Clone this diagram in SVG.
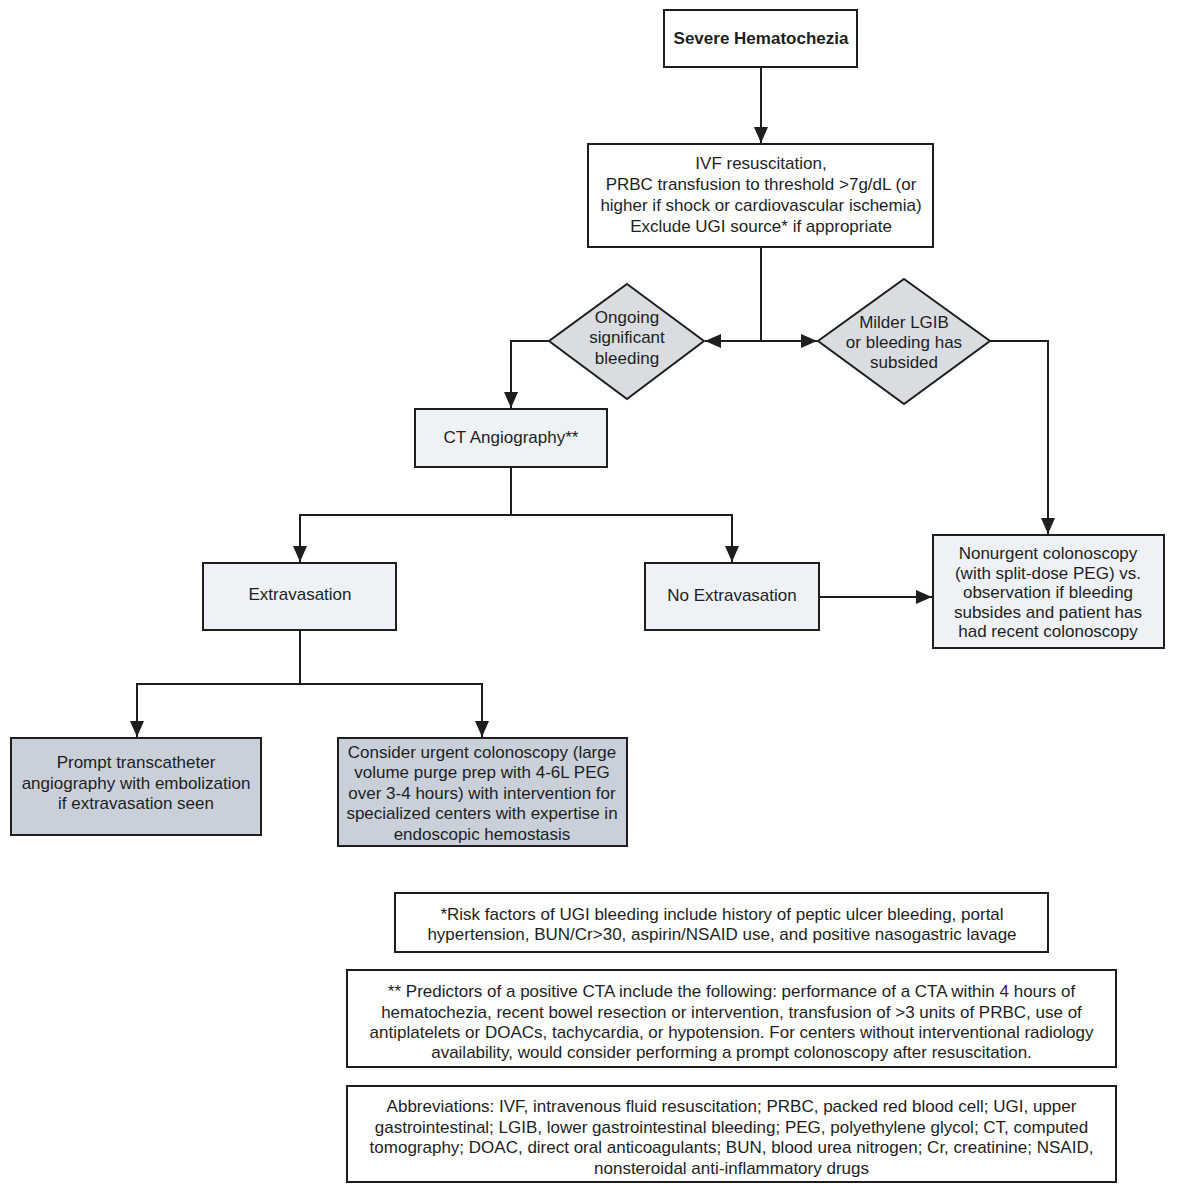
<svg xmlns="http://www.w3.org/2000/svg" width="1183" height="1200" viewBox="0 0 1183 1200">
<defs>
<style>
.box{stroke:#1e1e1e;stroke-width:2}
.w{fill:#ffffff}
.l{fill:#eef1f5}
.d{fill:#c9d0da}
.g{fill:#d9dce1}
text{font-family:"Liberation Sans",Arial,sans-serif;font-size:17px;fill:#1e1e1e;text-anchor:middle}
.b{font-weight:bold}
.c{fill:none;stroke:#1e1e1e;stroke-width:2}
</style>
<marker id="ah" markerUnits="userSpaceOnUse" markerWidth="16" markerHeight="14" viewBox="0 0 16 14" refX="16" refY="7" orient="auto">
<path d="M0,0 L16,7 L0,14 Z" fill="#1e1e1e"/>
</marker>
</defs>
<rect width="1183" height="1200" fill="#ffffff"/>
<g id="connectors">
<path class="c" d="M761,67 V143" marker-end="url(#ah)"/>
<path class="c" d="M761,247 V341 H705" marker-end="url(#ah)"/>
<path class="c" d="M761,341 H817" marker-end="url(#ah)"/>
<path class="c" d="M549,341 H511 V408" marker-end="url(#ah)"/>
<path class="c" d="M990,341 H1048 V534" marker-end="url(#ah)"/>
<path class="c" d="M511,467 V515 H300 V562" marker-end="url(#ah)"/>
<path class="c" d="M511,515 H732 V562" marker-end="url(#ah)"/>
<path class="c" d="M300,630 V684 H137 V737" marker-end="url(#ah)"/>
<path class="c" d="M300,684 H482 V737" marker-end="url(#ah)"/>
<path class="c" d="M819,597 H932" marker-end="url(#ah)"/>
</g>
<g id="severe">
<rect class="box w" x="664" y="10" width="193" height="57"/>
<text class="b" x="761" y="44">Severe Hematochezia</text>
</g>
<g id="ivf">
<rect class="box w" x="588" y="144" width="345" height="103"/>
<text x="761" y="169">IVF resuscitation,</text>
<text x="761" y="190">PRBC transfusion to threshold &gt;7g/dL (or</text>
<text x="761" y="211">higher if shock or cardiovascular ischemia)</text>
<text x="761" y="232">Exclude UGI source* if appropriate</text>
</g>
<g id="ongoing">
<polygon class="box g" points="627,284 704,341 627,399 549,341"/>
<text x="627" y="323">Ongoing</text>
<text x="627" y="343">significant</text>
<text x="627" y="364">bleeding</text>
</g>
<g id="milder">
<polygon class="box g" points="904,279 990,341 904,404 818,341"/>
<text x="904" y="328">Milder LGIB</text>
<text x="904" y="348">or bleeding has</text>
<text x="904" y="368">subsided</text>
</g>
<g id="cta">
<rect class="box l" x="415" y="409" width="192" height="58"/>
<text x="511" y="443">CT Angiography**</text>
</g>
<g id="extravasation">
<rect class="box l" x="203" y="563" width="193" height="67"/>
<text x="300" y="600">Extravasation</text>
</g>
<g id="noextravasation">
<rect class="box l" x="645" y="563" width="174" height="67"/>
<text x="732" y="601">No Extravasation</text>
</g>
<g id="nonurgent">
<rect class="box l" x="933" y="535" width="231" height="113"/>
<text x="1048" y="559">Nonurgent colonoscopy</text>
<text x="1048" y="578.5">(with split-dose PEG) vs.</text>
<text x="1048" y="598">observation if bleeding</text>
<text x="1048" y="617.5">subsides and patient has</text>
<text x="1048" y="637">had recent colonoscopy</text>
</g>
<g id="prompt">
<rect class="box d" x="11" y="738" width="250" height="97"/>
<text x="136" y="768">Prompt transcatheter</text>
<text x="136" y="789">angiography with embolization</text>
<text x="136" y="809">if extravasation seen</text>
</g>
<g id="consider">
<rect class="box d" x="338" y="738" width="289" height="108"/>
<text x="482" y="758">Consider urgent colonoscopy (large</text>
<text x="482" y="778">volume purge prep with 4-6L PEG</text>
<text x="482" y="799">over 3-4 hours) with intervention for</text>
<text x="482" y="819">specialized centers with expertise in</text>
<text x="482" y="840">endoscopic hemostasis</text>
</g>
<g id="footnote1">
<rect class="box w" x="395" y="893" width="653" height="59"/>
<text x="722" y="920">*Risk factors of UGI bleeding include history of peptic ulcer bleeding, portal</text>
<text x="722" y="940">hypertension, BUN/Cr&gt;30, aspirin/NSAID use, and positive nasogastric lavage</text>
</g>
<g id="footnote2">
<rect class="box w" x="347" y="970" width="769" height="97"/>
<text x="731.5" y="997">** Predictors of a positive CTA include the following: performance of a CTA within 4 hours of</text>
<text x="731.5" y="1018">hematochezia, recent bowel resection or intervention, transfusion of &gt;3 units of PRBC, use of</text>
<text x="731.5" y="1038">antiplatelets or DOACs, tachycardia, or hypotension. For centers without interventional radiology</text>
<text x="731.5" y="1058">availability, would consider performing a prompt colonoscopy after resuscitation.</text>
</g>
<g id="abbreviations">
<rect class="box w" x="347" y="1086" width="769" height="96"/>
<text x="731.5" y="1112">Abbreviations: IVF, intravenous fluid resuscitation; PRBC, packed red blood cell; UGI, upper</text>
<text x="731.5" y="1133">gastrointestinal; LGIB, lower gastrointestinal bleeding; PEG, polyethylene glycol; CT, computed</text>
<text x="731.5" y="1153">tomography; DOAC, direct oral anticoagulants; BUN, blood urea nitrogen; Cr, creatinine; NSAID,</text>
<text x="731.5" y="1174">nonsteroidal anti-inflammatory drugs</text>
</g>
</svg>
